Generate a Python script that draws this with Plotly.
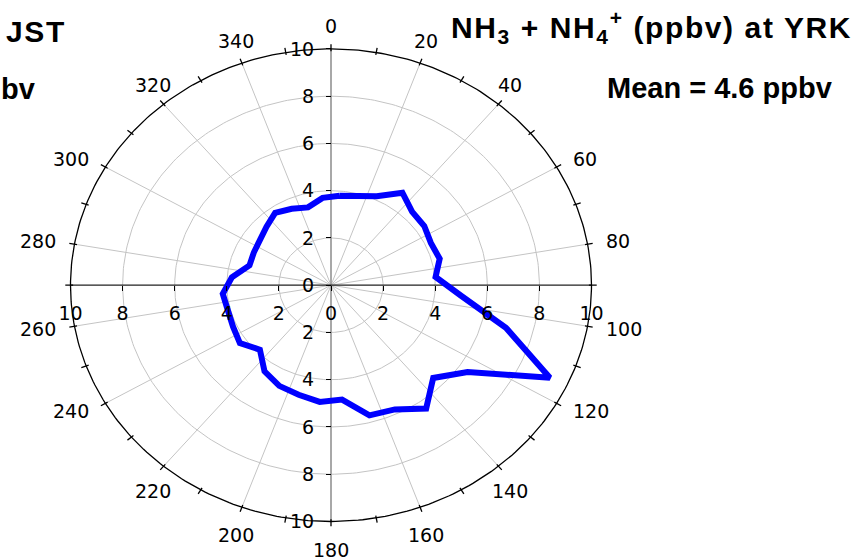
import numpy as np
import plotly.graph_objects as go

# ---------------- data ----------------
direction_deg = [5, 15, 25, 35, 45, 55, 65, 75, 85, 95, 105, 115, 125, 135, 145, 155, 165, 175,
                 185, 195, 205, 215, 225, 235, 245, 255, 265, 275, 285, 295, 305, 315, 325, 335, 345, 355]
nhx_ppbv = [3.80, 3.92, 4.15, 4.78, 4.40, 4.37, 4.23, 4.32, 4.03, 5.00, 6.95, 9.27, 6.40, 5.55, 6.37, 5.80, 5.70, 4.86,
            4.96, 4.80, 4.70, 4.45, 3.86, 4.27, 4.15, 4.10, 4.17, 3.82, 3.24, 3.27, 3.35, 3.50, 3.74, 3.57, 3.41, 3.71]
radial_tick_vals = [-10, -8, -6, -4, -2, 0, 2, 4, 6, 8, 10]
radial_tick_text = ["10", "8", "6", "4", "2", "0", "2", "4", "6", "8", "10"]
grid_radii = [2, 4, 6, 8]
outer_radius = 10
spoke_deg = list(range(0, 360, 20))
minor_tick_deg = list(range(0, 360, 10))
angle_label_deg = list(range(0, 360, 20))
angle_label_text = [str(a) for a in angle_label_deg]
title_text = "NH<sub>3</sub> + NH<sub>4</sub><sup>+</sup> (ppbv) at YRK"
mean_text = "Mean = 4.6 ppbv"
left_title_text = "JST"
left_mean_text = "bv"

# ---------------- geometry (layout) ----------------
W, H = 859, 560
cx, cy = 331.0, 285.2          # pixel centre of the rose
ux, uy = 26.05, 23.63          # pixels per radial unit (x, y)
R = 11.0                       # axis half-range
x_dom = [(cx - R * ux) / W, (cx + R * ux) / W]
y_dom = [1 - (cy + R * uy) / H, 1 - (cy - R * uy) / H]


def to_xy(r, deg):
    a = np.radians(np.asarray(deg, dtype=float))
    r = np.asarray(r, dtype=float)
    return r * np.sin(a), r * np.cos(a)


fig = go.Figure()

# grid circles
gx, gy = [], []
t = np.arange(0, 361, 1)
for rr in grid_radii:
    x, y = to_xy(np.full(t.shape, rr), t)
    gx += list(x) + [None]
    gy += list(y) + [None]
fig.add_trace(go.Scatter(x=gx, y=gy, mode="lines", line=dict(color="#c4c4c4", width=1),
                         hoverinfo="skip"))

# spokes
sx, sy = [], []
for d in spoke_deg:
    x, y = to_xy([0, outer_radius], [d, d])
    sx += list(x) + [None]
    sy += list(y) + [None]
fig.add_trace(go.Scatter(x=sx, y=sy, mode="lines", line=dict(color="#c4c4c4", width=1),
                         hoverinfo="skip"))

# vertical (0-180) axis line, gray
fig.add_trace(go.Scatter(x=[0, 0], y=[-outer_radius, outer_radius], mode="lines",
                         line=dict(color="#9a9a9a", width=1.6), hoverinfo="skip"))
# horizontal axis line, black
fig.add_trace(go.Scatter(x=[-outer_radius, outer_radius], y=[0, 0], mode="lines",
                         line=dict(color="#222222", width=1.2), hoverinfo="skip"))

# outer circle
x, y = to_xy(np.full(t.shape, outer_radius), t)
fig.add_trace(go.Scatter(x=x, y=y, mode="lines", line=dict(color="black", width=1.3),
                         hoverinfo="skip"))

# angular tick marks
tx, ty = [], []
for d in minor_tick_deg:
    x, y = to_xy([outer_radius - 0.1, outer_radius + 0.2], [d, d])
    tx += list(x) + [None]
    ty += list(y) + [None]
fig.add_trace(go.Scatter(x=tx, y=ty, mode="lines", line=dict(color="black", width=1.3),
                         hoverinfo="skip"))

# data line (closed)
dd = direction_deg + [direction_deg[0]]
rv = nhx_ppbv + [nhx_ppbv[0]]
x, y = to_xy(rv, dd)
fig.add_trace(go.Scatter(x=x, y=y, mode="lines", line=dict(color="#0000ff", width=6),
                         hoverinfo="skip"))

# angular labels
annotations = []
r_lab = 10.66
lab_font = dict(family="DejaVu Sans", size=19, color="black")
for d, txt in zip(angle_label_deg, angle_label_text):
    s, c = np.sin(np.radians(d)), np.cos(np.radians(d))
    x, y = r_lab * s, r_lab * c
    if abs(s) > 0.8:
        xa = "left" if s > 0 else "right"
        ya = "middle"
        ys = 0
    else:
        xa = "center"
        ya = "bottom" if c > 0 else "top"
        ys = -6 if c > 0 else 0
    annotations.append(dict(x=x, y=y, xref="x", yref="y", text=txt, showarrow=False,
                            xanchor=xa, yanchor=ya, yshift=ys, font=lab_font))

# titles
bold = "Liberation Sans"
annotations.append(dict(x=449 / W, y=1 - 4 / H, xref="paper", yref="paper",
                        text='<b><span style="letter-spacing:1.6px">' + title_text + '</span></b>',
                        showarrow=False, xanchor="left", yanchor="top",
                        font=dict(family=bold, size=30, color="black")))
annotations.append(dict(x=4 / W, y=1 - 13 / H, xref="paper", yref="paper",
                        text='<b><span style="letter-spacing:1.6px">' + left_title_text + '</span></b>',
                        showarrow=False, xanchor="left", yanchor="top",
                        font=dict(family=bold, size=30, color="black")))
annotations.append(dict(x=605 / W, y=1 - 70 / H, xref="paper", yref="paper",
                        text="<b>" + mean_text + "</b>",
                        showarrow=False, xanchor="left", yanchor="top",
                        font=dict(family=bold, size=29, color="black")))
annotations.append(dict(x=-1 / W, y=1 - 71 / H, xref="paper", yref="paper",
                        text="<b>" + left_mean_text + "</b>",
                        showarrow=False, xanchor="left", yanchor="top",
                        font=dict(family=bold, size=29, color="black")))

tick_font = dict(family="DejaVu Sans", size=19, color="black")
fig.update_layout(
    width=W, height=H,
    margin=dict(l=0, r=0, t=0, b=0),
    paper_bgcolor="white", plot_bgcolor="rgba(0,0,0,0)",
    showlegend=False,
    xaxis=dict(domain=x_dom, range=[-R, R], anchor="free", position=1 - cy / H,
               showgrid=False, zeroline=False, showline=False,
               ticks="outside", ticklen=5, tickwidth=1, tickcolor="black",
               tickmode="array", tickvals=radial_tick_vals, ticktext=radial_tick_text,
               tickfont=tick_font, ticklabelstandoff=6, fixedrange=True),
    yaxis=dict(domain=y_dom, range=[-R, R], anchor="free", position=cx / W,
               showgrid=False, zeroline=False, showline=False,
               ticks="outside", ticklen=5, tickwidth=1, tickcolor="black",
               tickmode="array", tickvals=radial_tick_vals, ticktext=radial_tick_text,
               tickfont=tick_font, ticklabelstandoff=8, fixedrange=True),
    annotations=annotations,
)

fig.write_html("out.html", config={"displayModeBar": False},
               post_script="document.body.style.margin='0';document.body.style.padding='0';")
